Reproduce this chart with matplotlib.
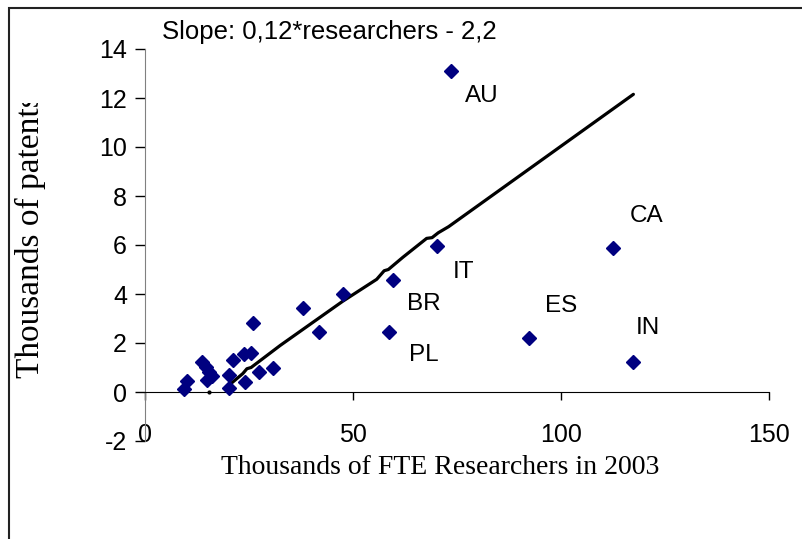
import matplotlib
matplotlib.use("Agg")
import matplotlib.pyplot as plt
from matplotlib import patches
from matplotlib.transforms import Bbox, TransformedBbox

plt.rcParams["font.family"] = ["Liberation Sans", "DejaVu Sans"]

# researchers (thousands FTE, 2003) vs patents (thousands)
researchers = [9.4, 10.0, 13.8, 14.7, 15.5, 16.0, 15.0, 20.1, 20.1, 21.1,
               23.8, 25.5, 25.9, 24.1, 27.3, 30.7, 37.9, 41.9, 47.5,
               58.7, 59.5, 70.1, 73.6, 92.3, 112.6, 117.4]
patents = [0.11, 0.45, 1.24, 1.03, 0.83, 0.65, 0.49, 0.69, 0.15, 1.31,
           1.55, 1.58, 2.83, 0.42, 0.83, 0.96, 3.42, 2.46, 4.0,
           2.44, 4.57, 5.96, 13.1, 2.19, 5.86, 1.24]

# labelled countries: name, label position (data coords)
labels = ["AU", "IT", "BR", "PL", "ES", "CA", "IN"]
label_x = [81.0, 76.5, 67.0, 67.0, 100.0, 120.5, 121.0]
label_y = [12.1, 4.9, 3.6, 1.5, 3.5, 7.2, 2.6]

# trend line as drawn (slightly wavy)
trend_x = [20.7, 23.5, 24.5, 25.5, 32.5, 40.0, 47.5, 55.7, 57.5, 58.5,
           62.0, 67.7, 69.0, 70.5, 73.0, 117.4]
trend_y = [0.35, 0.75, 0.95, 1.0, 1.9, 2.8, 3.7, 4.6, 4.95, 5.0,
           5.5, 6.27, 6.3, 6.5, 6.75, 12.15]

xticks = [0, 50, 100, 150]
yticks = [-2, 0, 2, 4, 6, 8, 10, 12, 14]

fig = plt.figure(figsize=(8.03, 5.39), dpi=100)
ax = fig.add_axes([145 / 803, 1 - 441 / 539, 624 / 803, 392 / 539])

ax.plot(trend_x, trend_y, color="black", lw=2.3, solid_capstyle="round", zorder=2)
ax.plot([15.5], [-0.02], "o", color="black", ms=2, zorder=2)
ax.plot(researchers, patents, "D", color="#000080", ms=7, mec="#000080", zorder=3)

for name, lx, ly in zip(labels, label_x, label_y):
    ax.text(lx, ly, name, fontsize=17.5, ha="center", va="center")

ax.set_xlim(0, 150)
ax.set_ylim(-2, 14)
for s in ["top", "right"]:
    ax.spines[s].set_visible(False)
ax.spines["bottom"].set_position(("data", 0))
ax.spines["bottom"].set_color("black")
ax.spines["left"].set_color("#808080")

ax.set_xticks(xticks)
ax.set_yticks(yticks)
ax.set_xticklabels([str(v) for v in xticks])
ax.set_yticklabels([str(v) for v in yticks])
ax.tick_params(axis="x", direction="out", length=6, width=1, pad=16, labelsize=18)
ax.tick_params(axis="y", direction="out", length=7, width=1, pad=6, labelsize=18)

fig.text(162 / 803, 1 - 32 / 539, "Slope: 0,12*researchers - 2,2",
         fontsize=18.5, ha="left", va="center")

fig.text(440 / 803, 1 - 467 / 539, "Thousands of FTE Researchers in 2003",
         family="Liberation Serif", fontsize=20, ha="center", va="center")

ylab = fig.text(30 / 803, 1 - 378 / 539, "Thousands of patents", family="Liberation Serif",
                fontsize=24, rotation=90, rotation_mode="anchor", ha="left", va="center")
ylab.set_clip_box(TransformedBbox(Bbox([[0, 0], [1, 1 - 103 / 539]]), fig.transFigure))
ylab.set_clip_on(True)

# outer chart border
fig.patches.append(patches.Rectangle((9 / 803, -0.1), 1.2, 1.1 - 8 / 539,
                                     transform=fig.transFigure, fill=False,
                                     edgecolor="#222222", lw=1.5))

fig.savefig("out.png", dpi=100)
